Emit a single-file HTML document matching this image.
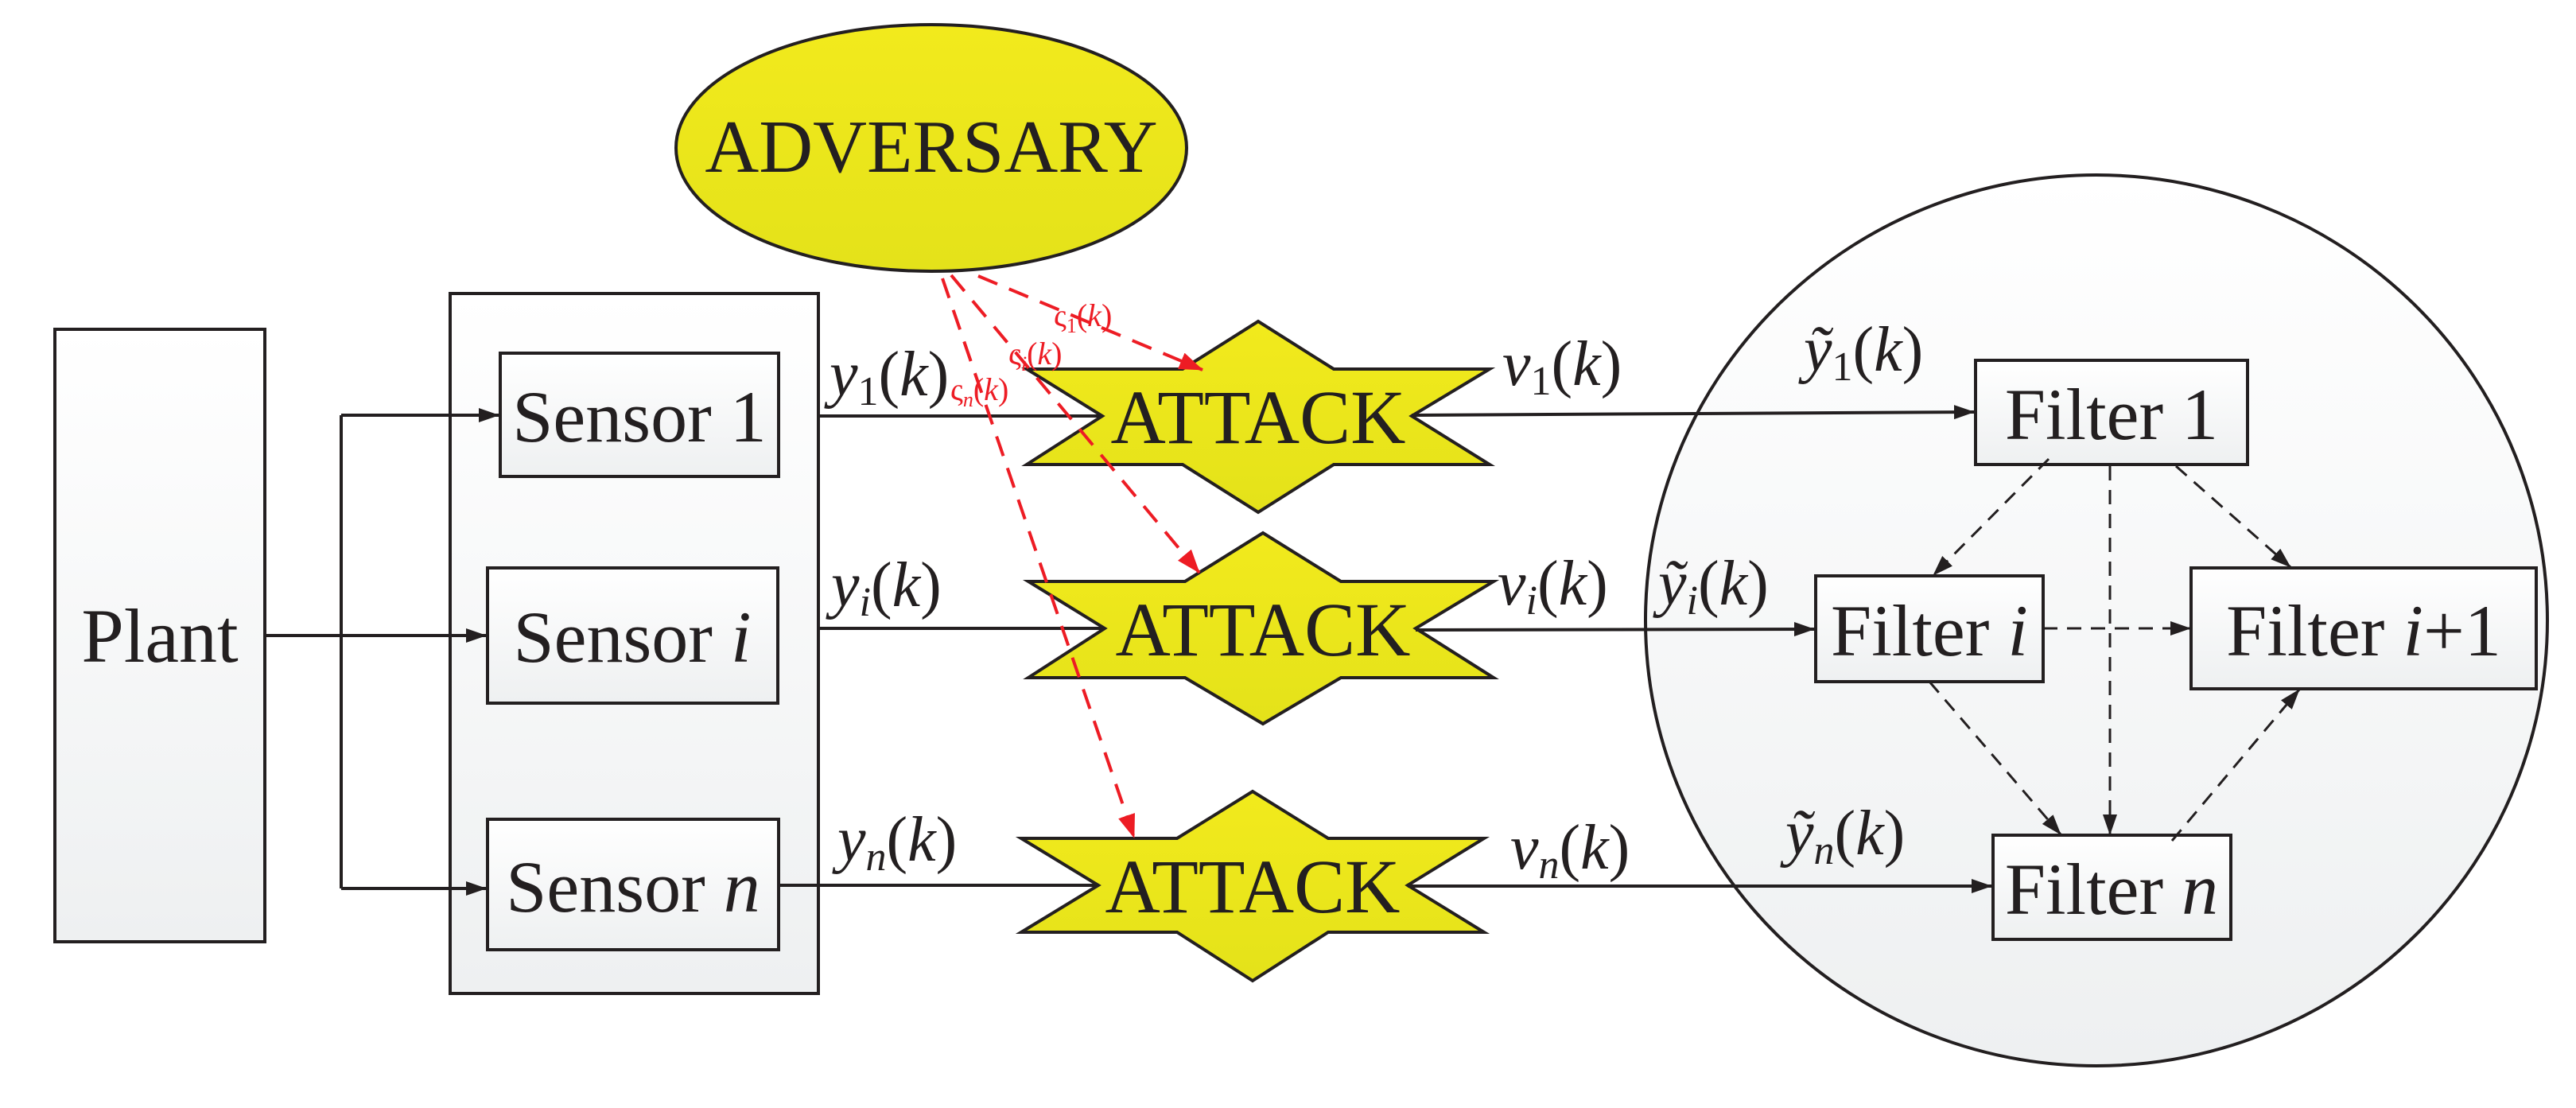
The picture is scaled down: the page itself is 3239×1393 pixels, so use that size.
<!DOCTYPE html>
<html><head><meta charset="utf-8"><style>
html,body{margin:0;padding:0;background:#fff;}
svg{display:block;}
text{font-family:"Liberation Serif",serif;fill:#231f20;}
.lab{font-size:80px;}
.it{font-style:italic;}
.red text,.red{fill:#ed1c24;}
</style></head><body>
<svg width="3239" height="1393" viewBox="0 0 3239 1393" xmlns="http://www.w3.org/2000/svg">
<defs>
<linearGradient id="g" x1="0" y1="0" x2="0" y2="1"><stop offset="0" stop-color="#ffffff"/><stop offset="1" stop-color="#eef0f1"/></linearGradient>
<linearGradient id="yg" x1="0" y1="0" x2="0" y2="1"><stop offset="0" stop-color="#f2ea1c"/><stop offset="1" stop-color="#e4e21a"/></linearGradient>
<marker id="a" markerWidth="10" markerHeight="8" refX="9" refY="4" orient="auto" markerUnits="userSpaceOnUse" viewBox="0 0 10 8"><path d="M0,0 L10,4 L0,8 z" fill="#231f20"/></marker>
<marker id="ab" markerWidth="26" markerHeight="18" refX="25" refY="9" orient="auto" markerUnits="userSpaceOnUse"><path d="M0,0 L26,9 L0,18 z" fill="#231f20"/></marker>
<marker id="ar" markerWidth="30" markerHeight="22" refX="29" refY="11" orient="auto" markerUnits="userSpaceOnUse"><path d="M0,0 L30,11 L0,22 z" fill="#ed1c24"/></marker>
</defs>

<!-- Plant -->
<rect x="69" y="414" width="264" height="770" fill="url(#g)" stroke="#231f20" stroke-width="4"/>
<text x="201" y="832" font-size="96" text-anchor="middle">Plant</text>

<!-- sensor container -->
<rect x="566" y="369" width="463" height="880" fill="url(#g)" stroke="#231f20" stroke-width="4"/>
<rect x="629" y="444" width="350" height="155" fill="url(#g)" stroke="#231f20" stroke-width="4"/>
<rect x="613" y="714" width="365" height="170" fill="url(#g)" stroke="#231f20" stroke-width="4"/>
<rect x="613" y="1030" width="366" height="164" fill="url(#g)" stroke="#231f20" stroke-width="4"/>
<text x="804" y="555" font-size="92" text-anchor="middle">Sensor 1</text>
<text x="795" y="832" font-size="92" text-anchor="middle">Sensor <tspan class="it">i</tspan></text>
<text x="796" y="1146" font-size="92" text-anchor="middle">Sensor <tspan class="it">n</tspan></text>

<!-- plant to sensors -->
<g stroke="#231f20" stroke-width="4" fill="none">
<line x1="333" y1="799" x2="611" y2="799" marker-end="url(#ab)"/>
<polyline points="429,522 429,1117"/>
<line x1="429" y1="522" x2="627" y2="522" marker-end="url(#ab)"/>
<line x1="429" y1="1117" x2="611" y2="1117" marker-end="url(#ab)"/>
<line x1="1029" y1="523" x2="1386" y2="523"/>
<line x1="1029" y1="790" x2="1389" y2="790"/>
<line x1="979" y1="1113" x2="1381" y2="1113"/>
</g>

<!-- adversary -->
<ellipse cx="1171" cy="186" rx="321" ry="155" fill="url(#yg)" stroke="#231f20" stroke-width="4"/>
<text x="1171" y="216" font-size="94" text-anchor="middle">ADVERSARY</text>

<!-- attacks -->
<g fill="url(#yg)" stroke="#231f20" stroke-width="4">
<polygon points="1291,464 1487,464 1582,404 1677,464 1873,464 1775,523 1873,584 1677,584 1582,644 1487,584 1291,584 1386,523"/>
<polygon points="1293,731 1490,731 1588,670 1686,731 1878,731 1780,790 1878,852 1686,852 1588,910 1490,852 1293,852 1389,790"/>
<polygon points="1284,1054 1480,1054 1575,995 1670,1054 1866,1054 1770,1113 1866,1172 1670,1172 1575,1233 1480,1172 1284,1172 1381,1113"/>
</g>
<text x="1582" y="557" font-size="96" text-anchor="middle">ATTACK</text>
<text x="1588" y="824" font-size="96" text-anchor="middle">ATTACK</text>
<text x="1575" y="1147" font-size="96" text-anchor="middle">ATTACK</text>

<!-- circle -->
<ellipse cx="2636" cy="780" rx="567" ry="560" fill="url(#g)" stroke="#231f20" stroke-width="4"/>

<!-- attack to filters -->
<g stroke="#231f20" stroke-width="4" fill="none">
<line x1="1775" y1="522" x2="2482" y2="518" marker-end="url(#ab)"/>
<line x1="1780" y1="792" x2="2281" y2="791" marker-end="url(#ab)"/>
<line x1="1770" y1="1114" x2="2504" y2="1114" marker-end="url(#ab)"/>
</g>

<!-- filters -->
<rect x="2484" y="453" width="342" height="131" fill="url(#g)" stroke="#231f20" stroke-width="4"/>
<rect x="2283" y="724" width="286" height="133" fill="url(#g)" stroke="#231f20" stroke-width="4"/>
<rect x="2755" y="714" width="434" height="152" fill="url(#g)" stroke="#231f20" stroke-width="4"/>
<rect x="2506" y="1050" width="299" height="131" fill="url(#g)" stroke="#231f20" stroke-width="4"/>
<text x="2655" y="552" font-size="92" text-anchor="middle">Filter 1</text>
<text x="2426" y="824" font-size="92" text-anchor="middle">Filter <tspan class="it">i</tspan></text>
<text x="2972" y="824" font-size="92" text-anchor="middle">Filter <tspan class="it">i</tspan>+1</text>
<text x="2655" y="1149" font-size="92" text-anchor="middle">Filter <tspan class="it">n</tspan></text>

<!-- dashed filter links -->
<g stroke="#231f20" stroke-width="3" fill="none" stroke-dasharray="18,12">
<line x1="2576" y1="577" x2="2431" y2="723" marker-end="url(#ab)"/>
<line x1="2653" y1="586" x2="2653" y2="1049" marker-end="url(#ab)"/>
<line x1="2736" y1="586" x2="2880" y2="713" marker-end="url(#ab)"/>
<line x1="2569" y1="790" x2="2754" y2="790" marker-end="url(#ab)"/>
<line x1="2426" y1="857" x2="2591" y2="1049" marker-end="url(#ab)"/>
<line x1="2731" y1="1057" x2="2891" y2="867" marker-end="url(#ab)"/>
</g>

<!-- red attack lines -->
<g stroke="#ed1c24" stroke-width="4" fill="none" stroke-dasharray="26,16">
<line x1="1230" y1="347" x2="1512" y2="465" marker-end="url(#ar)"/>
<line x1="1196" y1="346" x2="1508" y2="720" marker-end="url(#ar)"/>
<line x1="1185" y1="350" x2="1426" y2="1053" marker-end="url(#ar)"/>
</g>
<g class="red" font-size="40">
<text x="1325" y="410" fill="#ed1c24">ς<tspan font-size="26" dy="8">1</tspan><tspan dy="-8">(</tspan><tspan class="it">k</tspan>)</text>
<text x="1268" y="458" fill="#ed1c24">ς<tspan font-size="26" dy="8" class="it">i</tspan><tspan dy="-8">(</tspan><tspan class="it">k</tspan>)</text>
<text x="1195" y="503" fill="#ed1c24">ς<tspan font-size="26" dy="8" class="it">n</tspan><tspan dy="-8">(</tspan><tspan class="it">k</tspan>)</text>
</g>

<!-- labels -->
<g class="lab">
<text x="1043" y="497"><tspan class="it">y</tspan><tspan font-size="52" dy="12">1</tspan><tspan dy="-12">(</tspan><tspan class="it">k</tspan>)</text>
<text x="1045" y="762"><tspan class="it">y</tspan><tspan font-size="52" dy="12" class="it">i</tspan><tspan dy="-12">(</tspan><tspan class="it">k</tspan>)</text>
<text x="1053" y="1082"><tspan class="it">y</tspan><tspan font-size="52" dy="12" class="it">n</tspan><tspan dy="-12">(</tspan><tspan class="it">k</tspan>)</text>
<text x="1889" y="484"><tspan class="it">v</tspan><tspan font-size="52" dy="12">1</tspan><tspan dy="-12">(</tspan><tspan class="it">k</tspan>)</text>
<text x="1883" y="760"><tspan class="it">v</tspan><tspan font-size="52" dy="12" class="it">i</tspan><tspan dy="-12">(</tspan><tspan class="it">k</tspan>)</text>
<text x="1899" y="1092"><tspan class="it">v</tspan><tspan font-size="52" dy="12" class="it">n</tspan><tspan dy="-12">(</tspan><tspan class="it">k</tspan>)</text>
<text x="2268" y="466"><tspan class="it">ỹ</tspan><tspan font-size="52" dy="12">1</tspan><tspan dy="-12">(</tspan><tspan class="it">k</tspan>)</text>
<text x="2085" y="760"><tspan class="it">ỹ</tspan><tspan font-size="52" dy="12" class="it">i</tspan><tspan dy="-12">(</tspan><tspan class="it">k</tspan>)</text>
<text x="2245" y="1074"><tspan class="it">ỹ</tspan><tspan font-size="52" dy="12" class="it">n</tspan><tspan dy="-12">(</tspan><tspan class="it">k</tspan>)</text>
</g>
</svg>
</body></html>
